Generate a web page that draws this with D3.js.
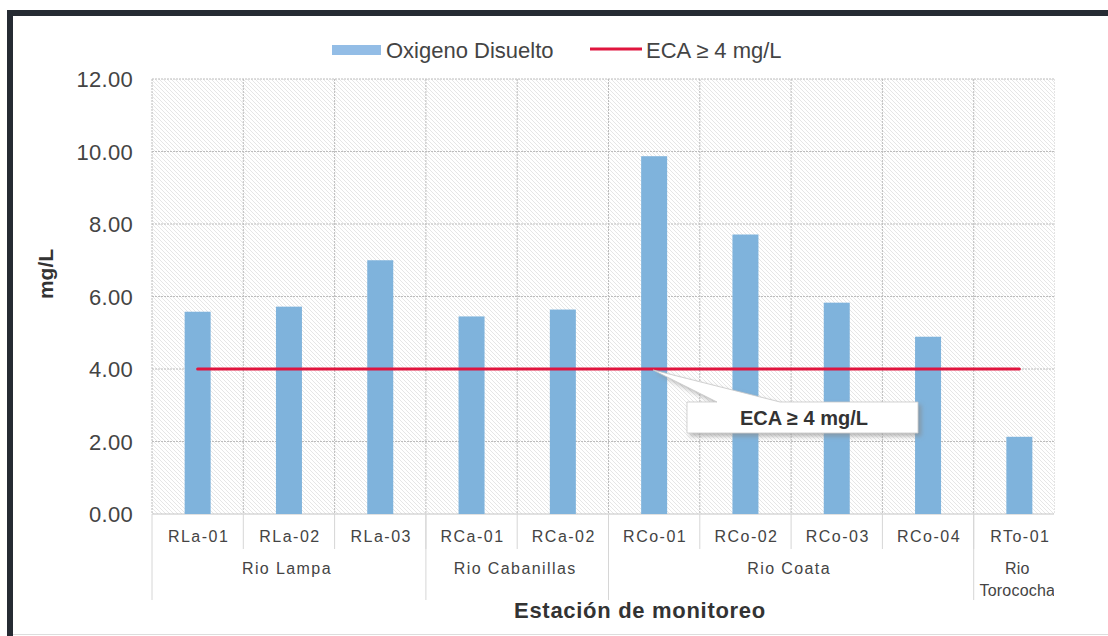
<!DOCTYPE html>
<html><head><meta charset="utf-8">
<script src="https://cdn.jsdelivr.net/npm/d3@7"></script>
<style>body{margin:0;background:#fff;} text{font-family:"Liberation Sans",Arial,sans-serif;}</style>
</head><body>
<svg id="c" width="1108" height="636"></svg>
<script>
const stations = ["RLa-01","RLa-02","RLa-03","RCa-01","RCa-02","RCo-01","RCo-02","RCo-03","RCo-04","RTo-01"];
const rivers = ["Rio Lampa","Rio Lampa","Rio Lampa","Rio Cabanillas","Rio Cabanillas","Rio Coata","Rio Coata","Rio Coata","Rio Coata","Rio Torococha"];
const oxygen = [5.58,5.72,7.00,5.45,5.64,9.87,7.71,5.83,4.89,2.13];
const ecaValue = 4;
const yTicks = [0,2,4,6,8,10,12];

const svg = d3.select("#c");
const L=152,R=1065,T=79,B=514,CUT=1054;
const x = d3.scaleBand().domain(stations).range([L,R]).paddingInner(0).paddingOuter(0);
const y = d3.scaleLinear().domain([0,12]).range([B,T]);
const cx = s => x(s)+x.bandwidth()/2;

// hatch pattern
const defs = svg.append("defs");
const pat = defs.append("pattern").attr("id","hatch").attr("patternUnits","userSpaceOnUse")
  .attr("width",4).attr("height",4);
pat.append("rect").attr("width",4).attr("height",4).attr("fill","#fff");
pat.append("path").attr("d","M-1,-1 L5,5 M-1,3 L1,5 M3,-1 L5,1").attr("stroke","#d2d2d2").attr("stroke-width",0.55);
const flt = defs.append("filter").attr("id","sh").attr("x","-10%").attr("y","-20%").attr("width","130%").attr("height","160%");
flt.append("feDropShadow").attr("dx",3).attr("dy",3).attr("stdDeviation",2).attr("flood-color","#888").attr("flood-opacity",0.6);

svg.append("rect").attr("x",L).attr("y",T).attr("width",R-L).attr("height",B-T).attr("fill","url(#hatch)");

// gridlines
const g = svg.append("g");
yTicks.forEach(t=>{
  g.append("line").attr("x1",L).attr("x2",R).attr("y1",y(t)).attr("y2",y(t))
   .attr("stroke",t===0?"#c4c4c4":"#bcbcbc").attr("stroke-width",1).attr("stroke-dasharray",t===0?null:"2,1");
});
stations.forEach(s=>{
  g.append("line").attr("x1",x(s)).attr("x2",x(s)).attr("y1",T).attr("y2",B)
   .attr("stroke","#bcbcbc").attr("stroke-dasharray","2,1");
});

// y axis labels
yTicks.forEach(t=>{
  svg.append("text").attr("x",133).attr("y",y(t)+8).attr("text-anchor","end")
    .attr("font-size",22).attr("letter-spacing","0.3px").attr("fill","#444").text(t.toFixed(2));
});

// bars
const bw = 26;
svg.selectAll(".bar").data(oxygen).enter().append("rect")
  .attr("x",(d,i)=>cx(stations[i])-bw/2)
  .attr("width",bw).attr("y",d=>y(d)).attr("height",d=>B-y(d)).attr("fill","#7fb3dc");

// ECA line
svg.append("line").attr("x1",cx(stations[0])).attr("x2",cx(stations[stations.length-1]))
  .attr("y1",y(ecaValue)).attr("y2",y(ecaValue))
  .attr("stroke","#e0153e").attr("stroke-width",3).attr("stroke-linecap","round");

// x axis station labels
stations.forEach((s,i)=>{
  svg.append("text").attr("x",cx(s)+1).attr("y",542).attr("text-anchor","middle").attr("font-size",16)
    .attr("letter-spacing","1.5px").attr("fill","#444").text(s);
  if(i>0) svg.append("line").attr("x1",x(s)).attr("x2",x(s)).attr("y1",B).attr("y2",549).attr("stroke","#d6d6d6");
});
// group labels
const groups = [];
rivers.forEach((r,i)=>{
  if(!groups.length || groups[groups.length-1].name!==r) groups.push({name:r,start:i,end:i});
  else groups[groups.length-1].end=i;
});
groups.forEach(gr=>{
  const a = x(stations[gr.start]), b = x(stations[gr.end])+x.bandwidth();
  svg.append("line").attr("x1",a).attr("x2",a).attr("y1",B).attr("y2",600).attr("stroke","#d6d6d6");
  const mid = (cx(stations[gr.start])+cx(stations[gr.end]))/2;
  const parts = (b-a) < 120 ? gr.name.split(" ") : [gr.name];
  parts.forEach((p,j)=>{
    svg.append("text").attr("x",mid-2).attr("y",574+j*22).attr("text-anchor","middle").attr("font-size",16)
      .attr("letter-spacing",parts.length>1?"0.2px":"1.4px").attr("fill","#444").text(p);
  });
});

// white cover on the right (cropped original)
svg.append("rect").attr("x",CUT).attr("y",16).attr("width",1108-CUT).attr("height",616).attr("fill","#fff");
svg.append("line").attr("x1",CUT+0.5).attr("x2",CUT+0.5).attr("y1",T).attr("y2",B).attr("stroke","#e4e4e4").attr("stroke-dasharray","2,1");

// callout
const tip = cx(stations[5]);
const cg = svg.append("g").attr("filter","url(#sh)");
cg.append("path").attr("d",`M687,402 L717,402 L${tip-1},${y(ecaValue)+1} L780,402 L918,402 L918,433 L687,433 Z`)
  .attr("fill","#fff").attr("stroke","#c8c8c8").attr("stroke-width",0.8);
svg.append("text").attr("x",804).attr("y",425).attr("text-anchor","middle").attr("font-size",20)
  .attr("font-weight","bold").attr("fill","#333").text("ECA ≥ 4 mg/L");

// axis titles
svg.append("text").attr("x",640).attr("y",618).attr("text-anchor","middle").attr("font-size",22)
  .attr("font-weight","bold").attr("letter-spacing","0.7px").attr("fill","#333").text("Estación de monitoreo");
svg.append("text").attr("transform","translate(53,274) rotate(-90)").attr("text-anchor","middle")
  .attr("font-size",21).attr("font-weight","bold").attr("fill","#333").text("mg/L");

// legend
svg.append("rect").attr("x",332).attr("y",45).attr("width",49).attr("height",10).attr("fill","#93bde6");
svg.append("text").attr("x",386).attr("y",58).attr("font-size",22).attr("fill","#444").text("Oxigeno Disuelto");
svg.append("line").attr("x1",590).attr("x2",642).attr("y1",49).attr("y2",49).attr("stroke","#e0153e").attr("stroke-width",3);
svg.append("text").attr("x",646).attr("y",58).attr("font-size",22).attr("fill","#444").text("ECA ≥ 4 mg/L");

// frame
svg.append("rect").attr("x",7).attr("y",10).attr("width",1101).attr("height",6).attr("fill","#262b33");
svg.append("rect").attr("x",7).attr("y",10).attr("width",6).attr("height",626).attr("fill","#262b33");
svg.append("line").attr("x1",13).attr("x2",1108).attr("y1",634.5).attr("y2",634.5).attr("stroke","#ddd");
</script>
</body></html>
